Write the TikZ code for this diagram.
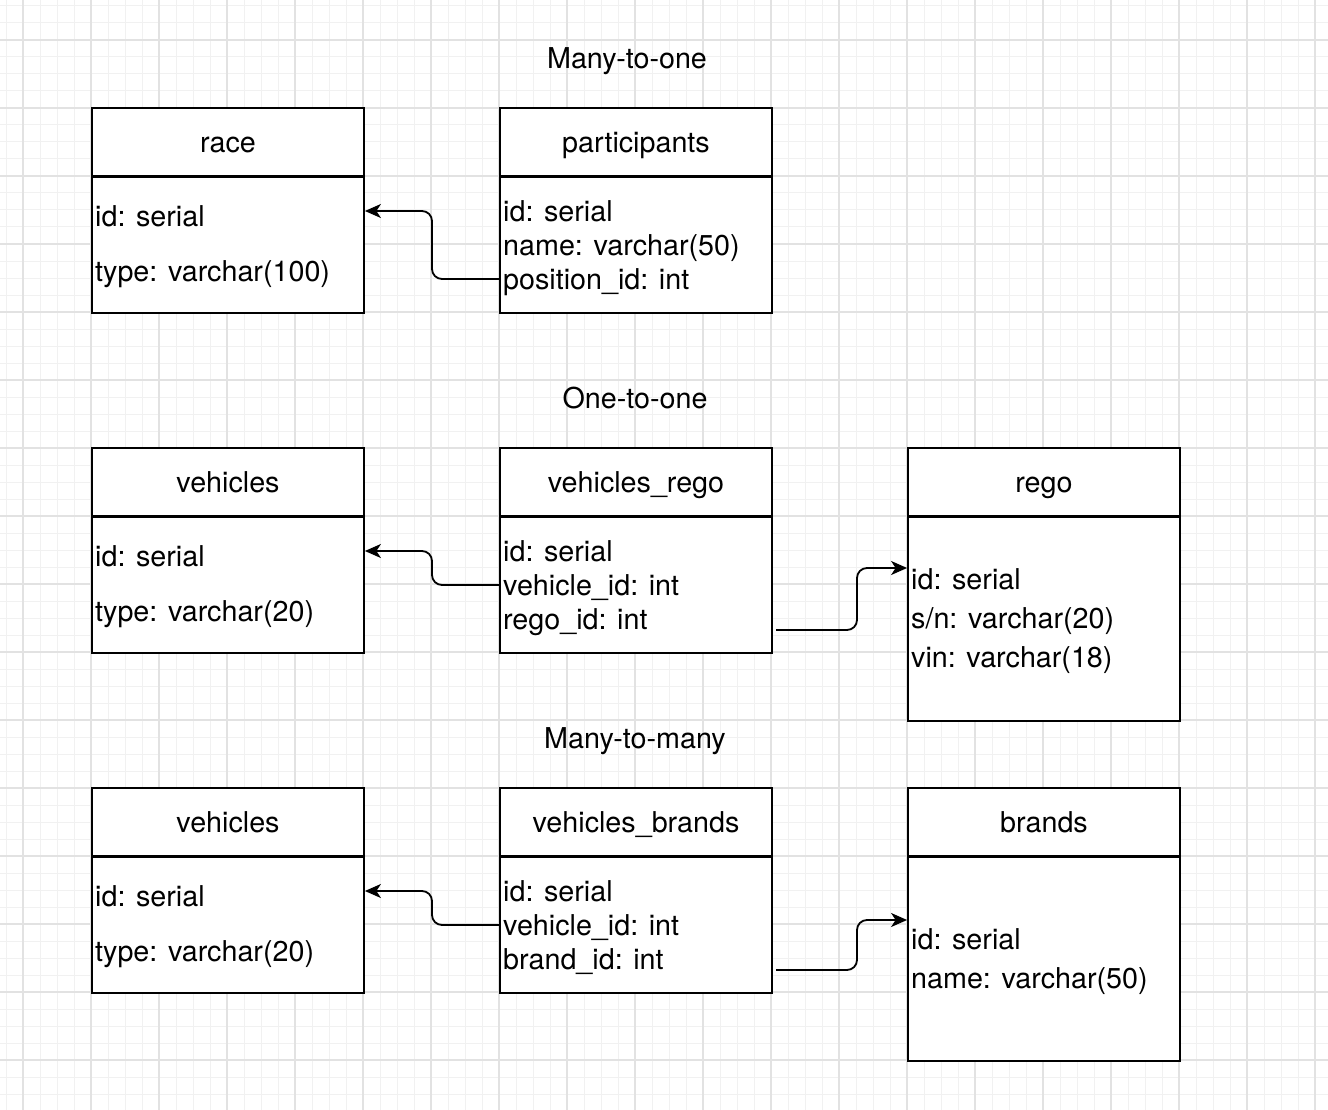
\documentclass[tikz,border=0pt]{standalone}
\usepackage{fontspec}
\setmainfont{TeX Gyre Heros}
\usetikzlibrary{arrows.meta}
\definecolor{gminor}{HTML}{F1F1F1}
\definecolor{gmajor}{HTML}{E2E2E2}
\tikzset{
  minorline/.style={draw=gminor,line width=1pt},
  majorline/.style={draw=gmajor,line width=1.6pt},
  hdr/.style={draw=black,line width=1.8pt,fill=white,minimum width=272pt,minimum height=68pt,inner sep=0pt,text height=20.6pt,text depth=0pt,font=\fontsize{28.7}{34}\selectfont},
  bodybox/.style={draw=black,line width=1.8pt,fill=white,minimum width=272pt,inner sep=0pt,anchor=north},
  field/.style={anchor=west,inner sep=0pt,text height=20.6pt,text depth=0pt,font=\fontsize{28.7}{34}\selectfont},
  title/.style={inner sep=0pt,text height=20.6pt,text depth=0pt,font=\fontsize{28.7}{34}\selectfont},
  conn/.style={draw=black,line width=1.8pt,rounded corners=10pt,-{Stealth[length=16pt,width=14pt,inset=4.5pt]}}
}
\begin{document}
\begin{tikzpicture}[x=1pt,y=-1pt]
\useasboundingbox (0,0) rectangle (1328,1110);
\fill[white] (0,0) rectangle (1328,1110);
% grid
\foreach \i in {0,...,78} {\draw[minorline] ({6+17*\i},0) -- ({6+17*\i},1110);}
\foreach \i in {0,...,65} {\draw[minorline] (0,{6+17*\i}) -- (1328,{6+17*\i});}
\foreach \i in {0,...,19} {\draw[majorline] ({23+68*\i},0) -- ({23+68*\i},1110);}
\foreach \i in {0,...,16} {\draw[majorline] (0,{40+68*\i}) -- (1328,{40+68*\i});}

% titles
\node[title] (t1) at (627,58) {Many-to-one};
\node[title] (t2) at (635,398) {One-to-one};
\node[title] (t3) at (635,738) {Many-to-many};

% ---- Many-to-one
\node[hdr] (race) at (228,142) {race};
\node[bodybox,minimum height=136pt] (raceb) at (228,176) {};
\node[field] (race-id) at (95,216) {id: serial};
\node[field] (race-type) at (95,271) {type: varchar(100)};

\node[hdr] (part) at (636,142) {participants};
\node[bodybox,minimum height=136pt] (partb) at (636,176) {};
\node[field] (part-id) at (503,211) {id: serial};
\node[field] (part-name) at (503,245) {name: varchar(50)};
\node[field] (part-pos) at (503,279) {position\_id: int};

\draw[conn] (part-pos.west -| partb.west) -- (432,279) -- (432,211) -- (raceb.east |- part-id.west);

% ---- One-to-one
\node[hdr] (veh) at (228,482) {vehicles};
\node[bodybox,minimum height=136pt] (vehb) at (228,516) {};
\node[field] (veh-id) at (95,556) {id: serial};
\node[field] (veh-type) at (95,611) {type: varchar(20)};

\node[hdr] (vr) at (636,482) {vehicles\_rego};
\node[bodybox,minimum height=136pt] (vrb) at (636,516) {};
\node[field] (vr-id) at (503,551) {id: serial};
\node[field] (vr-veh) at (503,585) {vehicle\_id: int};
\node[field] (vr-rego) at (503,619) {rego\_id: int};

\node[hdr] (rego) at (1044,482) {rego};
\node[bodybox,minimum height=204pt] (regob) at (1044,516) {};
\node[field] (rego-id) at (911,579) {id: serial};
\node[field] (rego-sn) at (911,618) {s/n: varchar(20)};
\node[field] (rego-vin) at (911,657) {vin: varchar(18)};

\draw[conn] (vr-veh.west -| vrb.west) -- (432,585) -- (432,551) -- (vehb.east |- vr-id.west);
\coordinate (vr-out) at (776,630);
\draw[conn] (vr-out) -- (857,630) -- (857,568) -- (regob.west |- 0,568);

% ---- Many-to-many
\node[hdr] (veh2) at (228,822) {vehicles};
\node[bodybox,minimum height=136pt] (veh2b) at (228,856) {};
\node[field] (veh2-id) at (95,896) {id: serial};
\node[field] (veh2-type) at (95,951) {type: varchar(20)};

\node[hdr] (vbr) at (636,822) {vehicles\_brands};
\node[bodybox,minimum height=136pt] (vbrb) at (636,856) {};
\node[field] (vbr-id) at (503,891) {id: serial};
\node[field] (vbr-veh) at (503,925) {vehicle\_id: int};
\node[field] (vbr-brand) at (503,959) {brand\_id: int};

\node[hdr] (brands) at (1044,822) {brands};
\node[bodybox,minimum height=204pt] (brandsb) at (1044,856) {};
\node[field] (brands-id) at (911,939) {id: serial};
\node[field] (brands-name) at (911,978) {name: varchar(50)};

\draw[conn] (vbr-veh.west -| vbrb.west) -- (432,925) -- (432,891) -- (veh2b.east |- vbr-id.west);
\coordinate (vbr-out) at (776,970);
\draw[conn] (vbr-out) -- (857,970) -- (857,920) -- (brandsb.west |- 0,920);
\end{tikzpicture}
\end{document}
